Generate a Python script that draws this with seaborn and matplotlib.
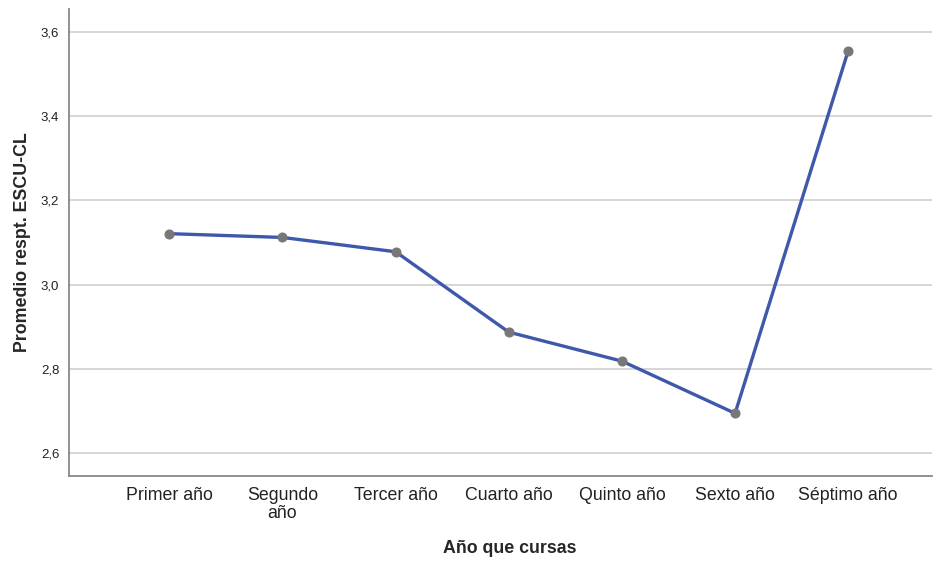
import numpy as np
import pandas as pd
import matplotlib
matplotlib.use("Agg")
import matplotlib.pyplot as plt
import seaborn as sns
from matplotlib.ticker import FuncFormatter

years = ["Primer año", "Segundo\naño", "Tercer año", "Cuarto año",
         "Quinto año", "Sexto año", "Séptimo año"]
means = [3.121, 3.112, 3.078, 2.887, 2.818, 2.694, 3.556]
y_ticks = [2.6, 2.8, 3.0, 3.2, 3.4, 3.6]

df = pd.DataFrame({"year": years, "mean": means})

sns.set_style("white")
plt.rcParams["font.family"] = ["Liberation Sans", "DejaVu Sans"]

fig = plt.figure(figsize=(9.36, 5.61), dpi=100)
ax = fig.add_axes([0.0737, 0.1515, 0.922, 0.8325])

sns.lineplot(
    data=df, x="year", y="mean", ax=ax,
    color="#3E58AC", linewidth=2.4,
    marker="o", markersize=6.5,
    markerfacecolor="#777777", markeredgecolor="#777777",
    sort=False
)

ax.set_xlim(-0.887, 6.74)
ax.set_ylim(2.545, 3.655)
ax.set_yticks(y_ticks)
ax.yaxis.set_major_formatter(FuncFormatter(lambda v, p: f"{v:.1f}".replace(".", ",")))
ax.yaxis.grid(True, color="#CFCFCF", linewidth=1.2)
ax.set_axisbelow(True)

for s in ["top", "right"]:
    ax.spines[s].set_visible(False)
for s in ["left", "bottom"]:
    ax.spines[s].set_color("#888888")
    ax.spines[s].set_linewidth(1.3)

ax.tick_params(axis="x", length=0, labelsize=12.8, colors="#222222", pad=8)
ax.tick_params(axis="y", length=0, labelsize=9.5, colors="#222222", pad=7)
for lbl in ax.get_xticklabels():
    lbl.set_linespacing(1.1)

ax.set_xlabel("Año que cursas", fontsize=12.8, fontweight="bold")
ax.xaxis.set_label_coords(0.511, -0.138)
ax.set_ylabel("Promedio respt. ESCU-CL", fontsize=12.8, fontweight="bold", labelpad=7)

fig.savefig("out.png", dpi=100)
